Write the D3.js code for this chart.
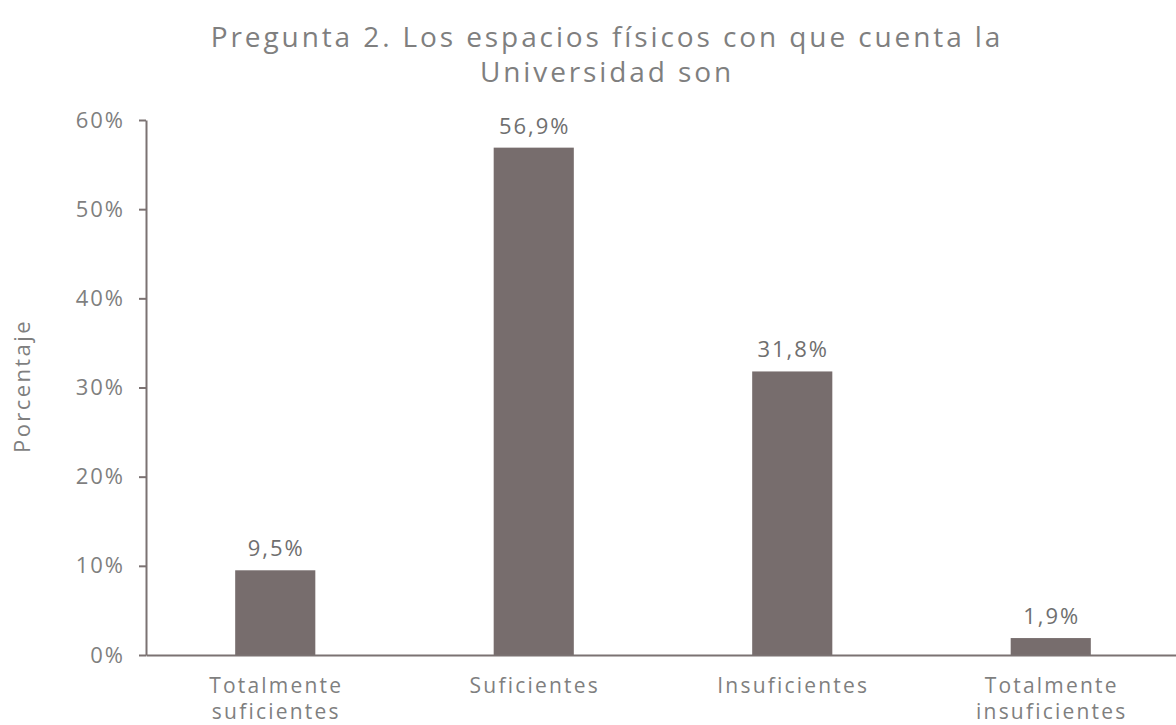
<!DOCTYPE html>
<html>
<head>
<meta charset="utf-8">
<script src="https://cdn.jsdelivr.net/npm/d3@7"></script>
<style>
  body { margin: 0; background: #fff; }
  text { font-family: "Open Sans", "Noto Sans", sans-serif; fill: #7f7f7f; }
</style>
</head>
<body>
<div id="chart"></div>
<script>
const categories = [["Totalmente", "suficientes"], ["Suficientes"], ["Insuficientes"], ["Totalmente", "insuficientes"]];
const values = [9.5, 56.9, 31.8, 1.9];
const valueLabels = ["9,5%", "56,9%", "31,8%", "1,9%"];
const yTicks = [0, 10, 20, 30, 40, 50, 60];
const titleLines = ["Pregunta 2. Los espacios físicos con que cuenta la", "Universidad son"];

const ctx = { w: 1176, h: 725, left: 146, right: 1180, top: 120, bottom: 655 };

const svg = d3.select("#chart").append("svg")
  .attr("width", ctx.w).attr("height", ctx.h);

const keys = categories.map(d => d.join(" "));

const x = d3.scaleBand()
  .domain(keys)
  .range([ctx.left, ctx.right])
  .paddingInner(0.69)
  .paddingOuter(0.345);

const y = d3.scaleLinear()
  .domain([0, 60])
  .range([ctx.bottom, ctx.top]);

// title
svg.append("text")
  .attr("x", 606).attr("y", 47)
  .attr("text-anchor", "middle")
  .style("font-size", "28px")
  .style("letter-spacing", "2.9px")
  .selectAll("tspan")
  .data(titleLines)
  .enter().append("tspan")
  .attr("x", 607)
  .attr("dy", (d, i) => i === 0 ? 0 : 35)
  .text(d => d);

// bars
svg.selectAll(".bar")
  .data(values)
  .enter().append("rect")
  .attr("class", "bar")
  .attr("x", (d, i) => x(keys[i]))
  .attr("y", d => y(d))
  .attr("width", x.bandwidth())
  .attr("height", d => y(0) - y(d))
  .attr("fill", "#776d6d");

// value labels
svg.selectAll(".vlabel")
  .data(values)
  .enter().append("text")
  .attr("class", "vlabel")
  .attr("x", (d, i) => x(keys[i]) + x.bandwidth() / 2 + 1)
  .attr("y", d => y(d) - 14)
  .attr("text-anchor", "middle")
  .style("font-size", "22px")
  .style("letter-spacing", "2px")
  .style("fill", "#6f6f6f")
  .text((d, i) => valueLabels[i]);

// y axis
const yAxis = svg.append("g")
  .attr("transform", "translate(" + ctx.left + ",0)")
  .call(d3.axisLeft(y).tickValues(yTicks).tickFormat(d => d + "%").tickSize(7).tickSizeOuter(0).tickPadding(14));
yAxis.select(".domain").attr("stroke", "#7b7272").attr("stroke-width", 2);
yAxis.selectAll(".tick line").attr("stroke", "#7b7272").attr("stroke-width", 2);
yAxis.selectAll(".tick text")
  .style("font-size", "22px")
  .style("letter-spacing", "2px")
  .style("font-family", "'Open Sans', sans-serif")
  .attr("fill", "#7f7f7f");

// x axis
const xAxis = svg.append("g")
  .attr("transform", "translate(0," + ctx.bottom + ")")
  .call(d3.axisBottom(x).tickSize(0).tickSizeOuter(0).tickFormat(""));
xAxis.select(".domain").attr("stroke", "#7b7272").attr("stroke-width", 2);

// category labels
const cat = svg.selectAll(".cat")
  .data(categories)
  .enter().append("text")
  .attr("class", "cat")
  .attr("text-anchor", "middle")
  .style("font-size", "21px")
  .style("letter-spacing", "2.2px")
  .attr("y", 693);
cat.selectAll("tspan")
  .data((d, i) => d.map(t => ({ t: t, i: i })))
  .enter().append("tspan")
  .attr("x", d => x(keys[d.i]) + x.bandwidth() / 2 + 1)
  .attr("dy", (d, j) => j === 0 ? 0 : 26)
  .text(d => d.t);

// y axis title
svg.append("text")
  .attr("transform", "translate(30,386) rotate(-90)")
  .attr("text-anchor", "middle")
  .style("font-size", "22px")
  .style("letter-spacing", "2.4px")
  .text("Porcentaje");
</script>
</body>
</html>
